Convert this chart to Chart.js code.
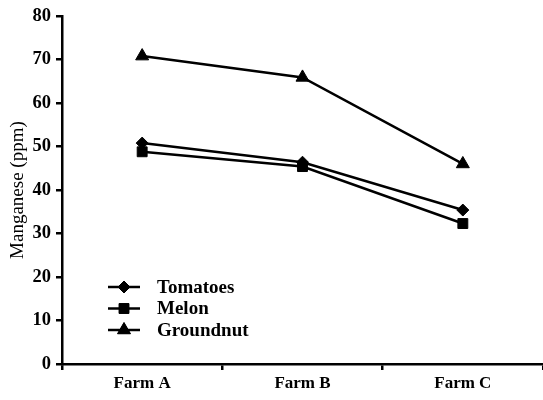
<!DOCTYPE html>
<html>
<head>
<meta charset="utf-8">
<script src="https://cdn.jsdelivr.net/npm/chart.js@4/dist/chart.umd.min.js"></script>
<style>
  html, body { margin: 0; padding: 0; background: #fff; }
  #wrap { width: 543px; height: 400px; }
</style>
</head>
<body>
<div id="wrap"><canvas id="c" width="543" height="400"></canvas></div>
<script>
// Manganese content (ppm) by farm and crop
const farms = ['Farm A', 'Farm B', 'Farm C'];
const tomatoes = [50.8, 46.4, 35.4];
const melon = [48.8, 45.4, 32.3];
const groundnut = [70.8, 65.9, 46.0];
const yTicks = [0, 10, 20, 30, 40, 50, 60, 70, 80];

const SERIF = '"Liberation Serif", "Times New Roman", serif';

// Legend drawn inside the plot: a short line with the series marker, then the label
const insideLegend = {
  id: 'insideLegend',
  afterDraw(chart, args, opts) {
    const ctx = chart.ctx;
    ctx.save();
    chart.data.datasets.forEach((ds, i) => {
      const y = opts.y + i * opts.rowGap;
      ctx.strokeStyle = '#000';
      ctx.lineWidth = 2.5;
      ctx.beginPath();
      ctx.moveTo(opts.x, y);
      ctx.lineTo(opts.x + opts.lineLen, y);
      ctx.stroke();
      ctx.fillStyle = '#000';
      ctx.lineWidth = 1;
      Chart.helpers.drawPoint(ctx, {
        pointStyle: ds.pointStyle,
        radius: ds.pointRadius,
        borderWidth: 1
      }, opts.x + opts.lineLen / 2, y);
      ctx.fill();
      ctx.font = 'bold 19px ' + SERIF;
      ctx.textBaseline = 'middle';
      ctx.textAlign = 'left';
      ctx.fillText(ds.label, opts.textX, y + 1);
    });
    ctx.restore();
  }
};

function series(label, data, style, r) {
  return {
    label, data,
    borderColor: '#000', backgroundColor: '#000', borderWidth: 2.5,
    pointStyle: style, pointRadius: r, pointHoverRadius: r,
    pointBackgroundColor: '#000', pointBorderColor: '#000', pointBorderWidth: 1,
    tension: 0
  };
}

new Chart(document.getElementById('c'), {
  type: 'line',
  data: {
    labels: farms,
    datasets: [
      series('Tomatoes', tomatoes, 'rectRot', 6),
      series('Melon', melon, 'rect', 7),
      series('Groundnut', groundnut, 'triangle', 7.5)
    ]
  },
  options: {
    responsive: false,
    animation: false,
    events: [],
    layout: { autoPadding: false, padding: { top: 15, right: 0, left: 0, bottom: 0 } },
    plugins: {
      legend: { display: false },
      tooltip: { enabled: false },
      insideLegend: { x: 108, lineLen: 32, textX: 157, y: 287, rowGap: 21.5 }
    },
    scales: {
      x: {
        offset: true,
        grid: {
          offset: true, drawOnChartArea: false, drawTicks: true,
          tickLength: 6, color: '#000', lineWidth: 2.5
        },
        border: { display: true, color: '#000', width: 2.5 },
        ticks: {
          color: '#000', padding: 3, maxRotation: 0,
          font: { family: SERIF, size: 17, weight: 'bold' }
        },
        afterFit(scale) { scale.height = 36; }
      },
      y: {
        min: 0, max: 80,
        afterBuildTicks(scale) { scale.ticks = yTicks.map(v => ({ value: v })); },
        grid: {
          drawOnChartArea: false, drawTicks: true,
          tickLength: 6, color: '#000', lineWidth: 2.5
        },
        border: { display: true, color: '#000', width: 2.5 },
        ticks: {
          color: '#000', padding: 5,
          font: { family: SERIF, size: 18.5, weight: 'bold' }
        },
        title: {
          display: true, text: 'Manganese (ppm)', color: '#000',
          font: { family: SERIF, size: 19, weight: 'normal' },
          padding: { top: 7, bottom: 0 }
        },
        afterFit(scale) { scale.width = 62; }
      }
    }
  },
  plugins: [insideLegend]
});
</script>
</body>
</html>
